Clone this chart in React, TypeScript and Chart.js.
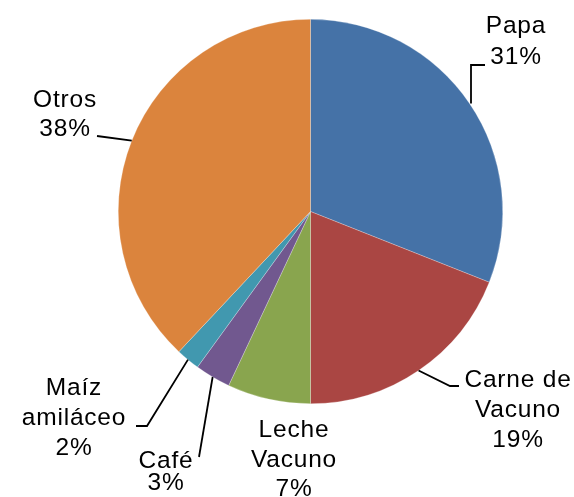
import React, { useEffect, useRef } from "react";
import { Chart, registerables } from "chart.js";

Chart.register(...registerables);

const categories = ["Papa", "Carne de Vacuno", "Leche Vacuno", "Café", "Maíz amiláceo", "Otros"];
const values = [31, 19, 7, 3, 2, 38];
const labelLines = [
  ["Papa", "31%"],
  ["Carne de", "Vacuno", "19%"],
  ["Leche", "Vacuno", "7%"],
  ["Café", "3%"],
  ["Maíz", "amiláceo", "2%"],
  ["Otros", "38%"],
];
const colors = ["#4572A7", "#AA4643", "#89A54E", "#71588F", "#4198AF", "#DB843D"];

// label layout: center x, first baseline y, line pitch, leader path points after the arc point
const labelLayout = [
  { x: 516, y: 33, pitch: 31, leader: [[471, 65], [485, 65]], vertical: true },
  { x: 518, y: 387, pitch: 30, leader: [[450, 386], [459, 386]] },
  { x: 294, y: 437, pitch: 29.5, leader: null },
  { x: 166, y: 468, pitch: 22, leader: [[199, 457]] },
  { x: 74, y: 395, pitch: 30, leader: [[147, 426], [136, 426]] },
  { x: 65, y: 107, pitch: 29, leader: [[97, 136]] },
];

const labelPlugin = {
  id: "pieLabels",
  afterDatasetsDraw(chart: any) {
    const ctx = chart.ctx;
    const meta = chart.getDatasetMeta(0);
    ctx.save();
    ctx.font = '24.5px "Liberation Sans", Arial, sans-serif';
    (ctx as any).letterSpacing = "0.8px";
    ctx.fillStyle = "#000";
    ctx.textAlign = "center";
    ctx.textBaseline = "alphabetic";
    meta.data.forEach((arc: any, i: number) => {
      const L = labelLayout[i];
      const mid = (arc.startAngle + arc.endAngle) / 2;
      const r = arc.outerRadius;
      let sx = arc.x + Math.cos(mid) * r;
      let sy = arc.y + Math.sin(mid) * r;
      if (L.leader) {
        ctx.strokeStyle = "#000";
        ctx.lineWidth = 1.8;
        ctx.beginPath();
        if (L.vertical) sx = L.leader[0][0];
        ctx.moveTo(sx, sy);
        L.leader.forEach((p) => ctx.lineTo(p[0], p[1]));
        ctx.stroke();
      }
      labelLines[i].forEach((t, j) => {
        ctx.fillText(t, L.x, L.y + j * L.pitch);
      });
    });
    ctx.restore();
  },
};

export default function App() {
  const ref = useRef<HTMLCanvasElement>(null);
  useEffect(() => {
    if (!ref.current) return;
    const chart = new Chart(ref.current, {
      type: "pie",
      data: {
        labels: categories,
        datasets: [
          {
            data: values,
            backgroundColor: colors,
            borderWidth: 0.5,
            borderColor: "rgba(255,255,255,0.5)",
          },
        ],
      },
      options: {
        responsive: false,
        animation: false,
        layout: { padding: { left: 118, right: 71, top: 19, bottom: 93 } },
        plugins: {
          legend: { display: false },
          tooltip: { enabled: false },
        },
      },
      plugins: [labelPlugin],
    });
    return () => chart.destroy();
  }, []);
  return (
    <div style={{ position: "fixed", left: 0, top: 0, width: 574, height: 497, background: "#fff" }}>
      <canvas ref={ref} width={574} height={497} style={{ width: 574, height: 497, display: "block" }} />
    </div>
  );
}
